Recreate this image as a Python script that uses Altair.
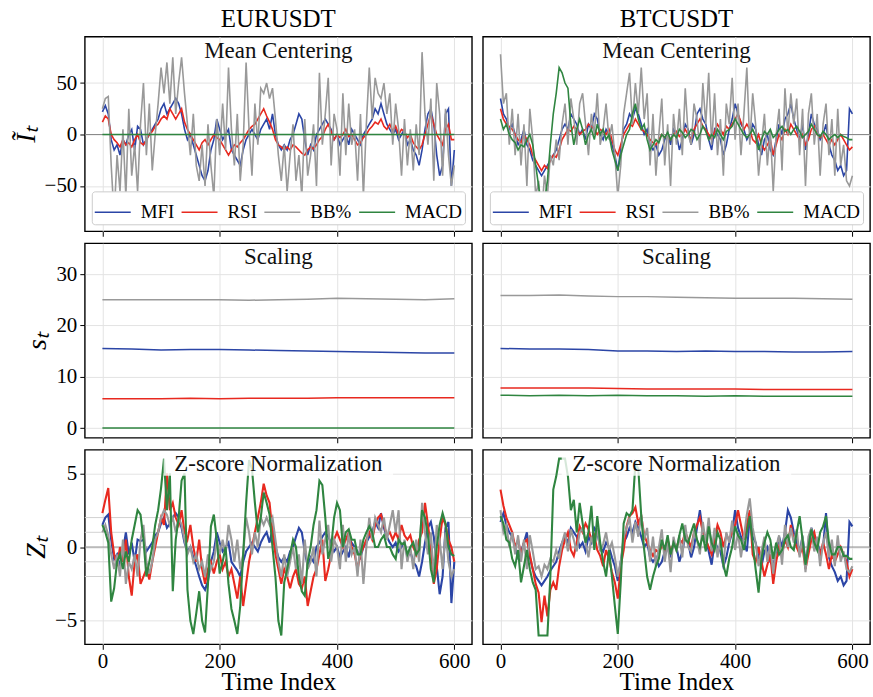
import altair as alt
import pandas as pd

FONT = "Liberation Serif"

# ---------------- categories / labels ----------------
ASSETS = ["EURUSDT", "BTCUSDT"]
STAGES = ["Mean Centering", "Scaling", "Z-score Normalization"]
Y_TITLES = ["Ĩₜ", "sₜ", "Zₜ"]
INDICATORS = ["MFI", "RSI", "BB%", "MACD"]
COLORS = ["#2b45a6", "#e8291f", "#999999", "#2f8540"]
X_TICKS = [0, 200, 400, 600]
Y_TICKS = [[-50, 0, 50], [0, 10, 20, 30], [-5, 0, 5]]
Z_REF_LEVELS = [-2, -1, 1, 2]

# ---------------- time indices ----------------
T = list(range(0, 601, 5))
T_SCALE = list(range(0, 601, 50))
T_FLAT = [0, 600]

# ---------------- EURUSDT : mean centering ----------------
eur_mc_mfi = [22, 28, 20, -5, -15, -10, -20, -5, -10, 0,
              5, -15, 8, 5, -10, -5, 0, 5, 10, 15,
              25, 30, 20, 25, 30, 35, 30, 20, 5, -5,
              0, -10, -20, -30, -40, -45, -35, -15, -5, 15,
              5, -5, 0, 5, -15, -20, -25, -30, -15, -5,
              0, 5, 0, -5, 5, 10, 15, 5, 20, 0,
              -10, -15, -10, -15, -5, 0, 10, 20, 15, -5,
              -20, -10, -15, 0, 5, 10, 15, 10, 5, -5,
              0, -10, -5, 0, -10, 5, 0, -5, -10, 0,
              5, 10, 15, 25, 20, 30, 20, 10, 5, 0,
              5, -5, 0, 5, -10, -5, -15, -20, -30, -15,
              5, 20, 25, 10, -20, -40, -30, 20, 25, -50,
              -15]
eur_mc_rsi = [12, 18, 15, 0, -5, -8, -12, -5, -10, -8,
              -12, -5, 0, -8, -10, -5, 0, 3, 8, 10,
              15, 18, 15, 25, 20, 15, 20, 25, 12, 5,
              0, -5, -10, -15, -8, -5, -10, -5, 0, -3,
              -5, -10, -15, -20, -15, -10, -12, -8, -5, 0,
              5, 8, 10, 15, 20, 25, 18, 12, 5, -5,
              -10, -12, -15, -12, -15, -10, -12, -15, -18, -20,
              -15, -12, -14, -10, -5, -2, 5, 10, 3, -5,
              0, -3, 0, 5, -2, 0, -5, -10, -8, -3,
              0, 5, 8, 12, 10, 15, 8, 5, 10, 3,
              8, 0, 5, 3, -3, 0, -8, -12, -15, -10,
              0, 10, 20, 10, 0, -5, -10, 5, 10, -5,
              -5]
eur_mc_bb = [25, 35, 37, -30, -80, -20, -55, 5, -60, 25,
             -40, -10, -55, 10, 50, -20, 30, -35, 0, 30,
             65, 40, 70, 30, 75, 20, 50, 75, 40, 10,
             -20, 20, -30, -45, -10, -50, 10, -30, -60, 15,
             -20, 30, -15, 65, 5, -30, 20, -45, -10, 70,
             5, -40, 30, -10, 45, 40, 50, 35, 45, 15,
             -20, -45, -10, -55, -20, 10, -45, -20, -60, 15,
             -40, -20, 10, -50, 60, -10, 20, 55, -30, 20,
             5, -40, 40, -20, 30, -10, 5, -45, 20, -60,
             10, 65, 15, 55, 40, 35, 50, 20, 40, -10,
             30, 5, -40, 15, -30, 5, -35, 10, -20, 80,
             20, -10, 35, -45, 50, 20, -40, 25, -20, -50,
             -30]
eur_mc_macd = [0.0, 0.0]

# ---------------- BTCUSDT : mean centering ----------------
btc_mc_mfi = [35, 20, 15, 5, 10, 0, -10, -5, 5, -10,
              -15, -25, -30, -35, -40, -35, -30, -25, -20, -15,
              -5, 5, 10, 5, 20, 15, 10, 0, 5, -5,
              10, 5, 20, 15, 0, -5, 5, 0, -10, -20,
              -35, -15, 5, 10, 20, 15, 25, 20, 10, 0,
              5, -10, -15, -10, -20, -15, -5, 0, -10, 5,
              0, -15, -5, 10, 5, -10, 0, 20, 25, 15,
              10, -5, -15, 5, 0, -5, -20, -10, 5, 15,
              30, 20, 10, 5, -5, 0, 10, 5, -10, -20,
              -5, 0, -15, -20, -5, 10, 0, 15, 20, 30,
              15, 5, -5, 10, -15, 0, 20, 10, 5, -5,
              0, 10, -10, -20, -25, -35, -30, -40, -35, 25,
              20]
btc_mc_rsi = [25, 15, 10, 8, 5, 0, -5, -8, 0, -5,
              -10, -20, -25, -30, -35, -30, -33, -25, -20, -22,
              -15, -5, 0, 5, 3, 8, 5, 0, 3, 5,
              10, 8, 5, 0, 5, 3, 0, 5, -5, -15,
              -20, -10, 0, 5, 10, 8, 15, 10, 5, 3,
              0, -5, -8, -10, -5, 0, -3, 0, -5, 0,
              3, -2, 0, 5, 0, -5, 5, 10, 15, 8,
              5, 0, -5, 3, 10, 5, 0, 8, 5, 10,
              15, 20, 12, 5, 10, 5, -5, -8, 0, -10,
              -15, -10, -5, -20, -10, 0, -5, 5, 0, 10,
              5, 0, -5, 0, -10, -5, 5, 8, 0, -3,
              0, -5, -10, -5, -10, -5, 0, -5, -10, -15,
              -12]
btc_mc_bb = [78, 30, 40, -10, 25, -20, 20, -30, 10, -50,
             25, -5, -60, -45, -80, -40, -60, -20, -30, -5,
             -25, 10, 30, -10, 35, 15, -10, 30, 40, 10,
             -20, 20, 0, 40, -10, 5, 30, -5, 10, -20,
             -60, -30, 20, 40, 60, 10, 50, 20, 65, 15,
             40, -30, 20, -40, 0, 35, -30, 10, -50, 20,
             -10, 25, -20, 45, 0, -10, 30, 15, -15, 50,
             10, 60, -10, 40, -20, 15, -40, 30, 10, 55,
             -5, 30, -20, 20, 65, -10, 40, 10, -40, -10,
             20, -30, 5, -55, 0, 25, -35, 45, 0, 40,
             10, 35, -20, 25, -50, 20, 40, -10, 20, -40,
             10, 30, -20, 15, -40, 25, -30, -10, -45, -50,
             -40]
btc_mc_macd = [15, 5, 10, 0, -5, -8, -15, -10, -12, -5,
               0, -10, -30, -50, -75, -65, -45, -10, 20, 40,
               65, 60, 50, 45, 10, -10, 5, 15, 5, -10,
               0, 5, -5, 10, 0, 5, -5, 0, -15, -25,
               -35, -20, -10, 0, 5, 20, 30, 15, 5, 10,
               -5, -15, -10, -5, -8, 0, -3, 2, -5, 0,
               -3, 5, 2, -3, 0, 5, 3, -5, 0, 8,
               3, -5, 0, -3, 5, 0, -5, 3, 5, 8,
               15, 10, 5, 0, -3, 0, 5, -2, -15, -5,
               3, 0, 5, -3, 0, 5, 8, 3, 5, 0,
               5, 8, 3, -3, 0, 3, 10, 5, 0, -2,
               3, 0, -5, -2, 0, -3, 0, -2, -3, -5,
               -5]

# ---------------- scaling (rolling std) ----------------
eur_sc_mfi = [15.5, 15.4, 15.2, 15.3, 15.3, 15.2, 15.1, 15.0, 14.9, 14.8, 14.7, 14.6, 14.6]
eur_sc_rsi = [5.7, 5.7, 5.7, 5.8, 5.7, 5.8, 5.8, 5.8, 5.9, 5.9, 5.9, 5.9, 5.9]
eur_sc_bb = [25.0, 25.0, 25.0, 25.0, 25.0, 24.9, 25.0, 25.1, 25.3, 25.2, 25.1, 25.0, 25.2]
eur_sc_macd = [0.02, 0.02, 0.02, 0.02, 0.02, 0.02, 0.02, 0.02, 0.02, 0.02, 0.02, 0.02, 0.02]
btc_sc_mfi = [15.5, 15.4, 15.4, 15.3, 15.0, 15.0, 14.9, 15.0, 14.9, 14.9, 14.8, 14.8, 14.9]
btc_sc_rsi = [7.8, 7.8, 7.8, 7.8, 7.7, 7.6, 7.6, 7.6, 7.6, 7.5, 7.5, 7.5, 7.5]
btc_sc_bb = [25.8, 25.8, 25.9, 25.7, 25.6, 25.6, 25.5, 25.4, 25.3, 25.3, 25.3, 25.2, 25.1]
btc_sc_macd = [6.4, 6.3, 6.4, 6.3, 6.4, 6.3, 6.3, 6.2, 6.3, 6.2, 6.2, 6.2, 6.2]

# ---------------- EURUSDT : z-score ----------------
eur_z_mfi = [1.5, 2.0, 2.2, 0.5, -0.8, -0.5, -1.3, -0.3, 1.0, -0.5,
             0.3, -1.0, 0.5, 0.4, 0.5, -0.3, 0.0, 0.3, 0.8, 1.0,
             1.6, 2.0, 1.3, 1.6, 2.0, 2.3, 2.0, 1.3, 0.3, -0.3,
             0.0, -0.7, -1.3, -2.0, -2.6, -2.9, -2.3, -1.0, -0.3, 1.0,
             0.3, -0.3, 0.0, 0.3, -1.0, -1.3, -1.6, -2.0, -1.0, -0.3,
             0.0, 0.3, 0.0, -0.3, 0.3, 0.7, 1.0, 0.3, 1.3, 0.0,
             -0.7, -1.0, -0.7, -1.0, -0.3, 0.0, 0.7, 1.3, 1.0, -0.3,
             -1.3, -0.7, -1.0, 0.0, 0.3, 0.7, 1.0, 0.7, 0.3, -0.3,
             0.0, -0.7, -0.3, 0.0, -0.7, 0.3, 0.0, -0.3, -0.7, 0.0,
             0.3, 0.7, 1.0, 1.7, 1.3, 2.3, 1.3, 0.7, 0.3, 0.0,
             0.3, -0.3, 0.0, 0.3, -0.7, -0.3, -1.0, -1.3, -2.0, -1.0,
             0.3, 1.3, 1.7, 0.7, -1.3, -3.2, -2.0, 1.3, 1.7, -3.8,
             -1.0]
eur_z_rsi = [2.3, 3.2, 4.0, 1.0, -0.5, -1.3, 0.0, -1.0, 0.5, -2.0,
             -3.3, -1.0, -0.5, -2.5, -2.0, -1.5, -2.2, -1.0, 0.0, 1.0,
             2.0, 1.5, 5.0, 2.5, 3.0, 2.0, 1.5, 2.5, 1.0, 0.5,
             1.5, 0.0, -1.0, 0.5, -1.5, -2.5, -1.5, -1.0, -1.8, -1.0,
             -0.5, -1.5, -1.0, -2.0, -1.5, -2.5, -3.5, -2.0, -4.0, -2.5,
             -1.0, 0.0, 1.0, 2.0, 3.0, 4.3, 3.5, 3.0, 1.0, -0.5,
             -1.5, -2.5, -1.5, -2.0, -2.8, -2.0, -1.5, -2.5, -2.8, -2.0,
             -4.0, -3.0, -2.0, -1.5, -0.5, 0.5, -2.3, -1.5, -0.5, 0.5,
             1.0, 0.5, 0.0, 0.5, 1.0, 0.0, -0.5, -1.5, -0.5, 0.0,
             0.5, 1.0, 0.5, 1.5, 2.0, 2.2, 1.5, 0.8, 1.0, 0.5,
             1.0, 0.5, 1.5, 0.8, 0.5, 0.8, 0.0, -0.5, 0.5, 1.0,
             3.0, 1.5, 0.0, -2.5, -1.5, 0.5, 2.0, 1.5, 0.5, 0.0,
             -1.0]
eur_z_bb = [1.0, 1.5, 0.8, -0.5, -1.5, -0.5, -2.0, 0.5, -2.5, -1.0,
            -1.5, -0.5, -2.0, 0.5, 1.5, -1.0, -1.8, -1.0, 0.5, 1.0,
            2.0, 2.5, 2.2, 1.5, 2.0, 1.0, 2.0, 1.5, 0.5, -0.5,
            0.0, -1.0, -0.5, -1.5, -1.0, -2.0, -0.5, -1.5, -1.0, 0.5,
            -0.5, 0.5, -0.5, 1.5, 0.5, -1.0, 0.5, -1.5, -0.5, 2.0,
            1.0, -0.5, 1.0, 0.0, 2.0, 1.5, 2.0, 1.5, 2.0, 0.5,
            -1.0, -2.0, -0.5, -2.0, -1.0, 0.0, -1.5, -0.5, -2.5, 0.5,
            -1.5, -1.0, 0.0, -2.0, 1.8, -0.5, 0.5, 1.5, -1.0, 0.5,
            0.0, -1.5, 1.5, -1.0, 1.0, -0.5, 0.0, -2.0, 0.5, -2.5,
            0.0, 2.0, 0.5, 2.0, 1.5, 1.0, 2.0, 0.5, 1.5, 2.5,
            1.0, 2.5, -1.5, 0.5, -1.0, 0.0, -1.5, 0.5, -1.0, 3.0,
            1.0, -0.5, 1.0, -2.0, 1.5, 0.5, -1.5, 1.0, -1.0, -2.0,
            -1.5]
eur_z_macd = [1.5, 1.0, 0.3, -3.7, -2.8, -1.0, -0.5, -1.5, -0.3, -1.0,
              0.5, 1.5, 2.5, 2.2, 0.5, -2.0, -1.0, 0.0, 1.5, 2.5,
              4.0, 6.0, 2.5, 5.0, -3.0, 0.5, 2.0, 4.5, 5.0, -2.9,
              -5.0, -5.9, -4.5, -3.0, -5.0, -5.8, -2.5, 1.4, 2.2, 0.5,
              -1.8, -1.0, 0.0, -2.5, -4.2, -5.0, -5.9, -4.0, -0.5, 3.0,
              5.9, 5.3, 3.0, 1.0, 2.0, 3.7, 3.0, 2.2, 0.0, -2.0,
              -5.0, -6.0, -2.4, -1.5, -0.5, 0.5, 0.0, -2.0, -3.0, -3.3,
              -1.0, 0.0, 1.5, 2.5, 4.5, 4.2, 2.0, -0.8, 0.0, 2.0,
              3.0, 2.5, 0.0, 1.0, 1.2, 0.5, 0.5, -0.5, -0.5, 0.5,
              1.0, 1.4, 1.0, 0.0, 0.0, 0.5, 0.8, 0.0, 0.0, -0.5,
              -0.8, 0.5, 0.2, 0.3, -0.5, 0.0, 0.3, -0.5, -0.2, 2.5,
              2.0, 0.8, -1.5, -2.4, 0.0, 1.5, 2.3, 1.6, 0.0, -0.5,
              -0.6]

# ---------------- BTCUSDT : z-score ----------------
btc_z_mfi = [1.7, 2.3, 1.5, 1.0, 0.7, 0.0, -0.7, -0.3, 0.3, 1.0,
             -0.7, -1.5, -2.0, -2.3, -2.6, -2.3, -2.0, -1.6, -1.3, -1.0,
             -0.3, 0.3, 0.7, 0.3, 1.3, 1.0, 0.7, 0.0, 0.3, -0.3,
             0.7, 0.3, 1.3, 1.0, 0.0, -0.3, 0.3, 0.0, -0.7, -1.3,
             -2.3, -1.0, 0.3, 0.7, 1.3, 1.0, 1.7, 1.3, 0.7, 0.0,
             0.3, -0.7, -1.0, -0.7, -1.3, -1.0, -0.3, 0.0, -0.7, 0.3,
             0.0, -1.0, -0.3, 0.7, 0.3, -0.7, 0.0, 1.3, 2.5, 1.0,
             0.7, -0.3, -1.2, 0.3, 0.0, -0.3, -1.3, -0.7, 0.3, 1.0,
             2.5, 1.3, 0.7, 0.3, -0.3, 2.0, 0.7, 0.3, -0.7, -1.3,
             -0.3, 0.0, -1.0, -1.3, -0.3, 0.7, 0.0, 1.0, 2.5, 2.0,
             1.0, 0.3, -0.3, 0.7, -1.0, 0.0, 1.3, 0.7, 0.3, -0.3,
             0.0, 2.3, -0.7, -1.3, -1.7, -2.3, -2.0, -2.6, -2.3, 1.7,
             1.4]
btc_z_rsi = [3.9, 2.8, 2.0, 1.5, 1.0, 0.0, 0.5, -0.5, 0.3, 0.5,
             -0.5, -1.5, -2.5, -3.1, -5.1, -3.3, -4.7, -2.9, -2.4, -2.9,
             -1.3, -0.2, 0.5, 1.0, -0.2, -0.6, 0.3, 1.4, 1.0, 1.6,
             1.2, 0.5, 0.8, -0.2, -0.6, -1.3, -0.2, -0.8, -1.7, -2.4,
             -3.5, -1.3, -0.2, 1.4, 2.1, 2.3, 2.7, 1.6, 2.1, 0.8,
             0.3, -0.2, -0.6, -0.2, -0.4, 0.1, -0.2, 0.5, -0.3, 0.2,
             0.0, 0.5, 0.3, 1.0, 0.5, 0.0, 1.0, 1.5, 2.0, 1.0,
             0.5, 0.0, -0.5, 0.5, 1.5, 1.0, 0.0, 0.8, 0.5, 1.0,
             1.5, 2.5, 1.5, 0.5, 1.5, 2.5, -0.5, -1.0, 0.0, -1.0,
             -2.0, -1.2, -0.5, -2.5, -1.0, 0.0, -0.5, 0.5, 0.0, 1.5,
             0.5, 0.0, -0.5, 0.0, -1.5, -0.5, 0.5, 1.0, 0.0, -0.5,
             0.3, -0.5, -1.5, -0.5, -1.0, -0.5, 0.0, -0.5, -1.0, -2.0,
             -1.5]
btc_z_bb = [2.5, 1.0, 1.5, 0.0, 1.0, -0.5, 0.8, -1.0, 0.5, -1.5,
            0.8, -0.3, -1.5, -1.3, -2.0, -1.2, -1.5, -0.8, -1.0, -0.2,
            -0.8, 0.3, 1.0, -0.3, 1.2, 0.5, -0.3, 1.0, 1.3, 0.3,
            -0.7, 0.7, 0.0, 1.3, -0.3, 0.2, 1.0, -0.2, 0.3, -0.7,
            -2.0, -1.0, 0.7, 1.3, 2.0, 0.3, 1.7, 0.7, 2.2, 0.5,
            1.3, -1.0, 0.7, -1.3, 0.0, 1.2, -1.0, 0.3, -1.7, 0.7,
            -0.3, 0.8, -0.7, 1.5, 0.0, -0.3, 1.0, 0.5, -0.5, 1.7,
            0.3, 2.0, -0.3, 1.3, -0.7, 0.5, -1.3, 1.0, 0.3, 1.8,
            -0.2, 1.0, -0.7, 0.7, 2.2, 3.3, 1.3, 0.3, -1.3, -0.3,
            0.7, -1.0, 0.2, -1.8, 0.0, 0.8, -1.2, 1.5, 0.0, 1.3,
            0.3, 1.2, -0.7, 0.8, -1.7, 0.7, 1.3, -0.3, 0.7, -1.3,
            0.3, 1.0, -0.7, 0.5, -1.3, 0.8, -1.0, -0.3, -1.5, -1.7,
            -1.3]
btc_z_macd = [2.1, 1.6, 0.5, 0.3, -0.8, -1.3, -0.2, -2.4, -1.3, -0.2,
              -1.5, -2.4, -2.9, -6.0, -6.0, -6.0, -6.0, -2.0, 3.9, 4.8,
              6.0, 6.0, 6.0, 4.8, 2.5, 3.2, 1.0, 3.0, 1.6, 0.3,
              1.0, 2.8, -0.2, 2.1, 0.3, -1.0, -2.0, -0.2, -2.0, -4.0,
              -5.9, -2.4, 1.6, 2.3, 2.1, 2.5, 5.7, 5.3, 2.1, -0.2,
              -2.0, -2.9, -2.0, -1.3, -0.8, 0.5, -0.2, 0.8, -0.5, 0.3,
              -0.2, 0.8, 1.6, 0.5, 0.3, 1.0, 1.6, 0.5, 0.0, 0.8,
              -0.3, 1.4, 0.3, -0.2, 1.0, 0.5, -1.2, -2.0, -0.8, 0.0,
              1.4, 0.8, 0.5, -0.2, 1.0, 2.1, 0.3, -1.5, -3.1, -0.8,
              0.3, 1.0, 0.5, -0.8, 0.3, -0.5, -0.2, 0.5, 0.8, 0.0,
              -0.2, 1.0, 2.1, 0.5, -1.2, 0.0, 1.2, 0.3, -0.2, 1.0,
              1.4, 2.1, 0.3, -0.5, -0.5, 0.0, 0.0, -0.6, -0.6, -0.8,
              -0.8]

# ---------------- assembling ----------------
SERIES = {
    (0, 0): [(T, eur_mc_mfi), (T, eur_mc_rsi), (T, eur_mc_bb), (T_FLAT, eur_mc_macd)],
    (0, 1): [(T, btc_mc_mfi), (T, btc_mc_rsi), (T, btc_mc_bb), (T, btc_mc_macd)],
    (1, 0): [(T_SCALE, eur_sc_mfi), (T_SCALE, eur_sc_rsi), (T_SCALE, eur_sc_bb), (T_SCALE, eur_sc_macd)],
    (1, 1): [(T_SCALE, btc_sc_mfi), (T_SCALE, btc_sc_rsi), (T_SCALE, btc_sc_bb), (T_SCALE, btc_sc_macd)],
    (2, 0): [(T, eur_z_mfi), (T, eur_z_rsi), (T, eur_z_bb), (T, eur_z_macd)],
    (2, 1): [(T, btc_z_mfi), (T, btc_z_rsi), (T, btc_z_bb), (T, btc_z_macd)],
}
Y_DOMAINS = [[-94, 95], [-1.9, 36], [-6.6, 6.6]]
LINE_WIDTHS = [1.6, 1.5, 2.1]

W, H = 388, 195
X_SCALE = alt.Scale(domain=[-30, 630], nice=False, zero=False)


def panel(stage, asset):
    left = asset == 0
    bottom = stage == 2
    x_axis_kw = dict(values=X_TICKS, grid=True, ticks=True, labels=bottom,
                     labelFontSize=21, labelPadding=1)
    if bottom:
        x_axis_kw.update(title="Time Index", titleFontSize=25, titlePadding=-2)
    else:
        x_axis_kw.update(title=None)
    x_enc = alt.X("t:Q", scale=X_SCALE, axis=alt.Axis(**x_axis_kw))

    if left:
        y_axis = alt.Axis(values=Y_TICKS[stage], grid=True, ticks=True, labels=True,
                          labelFontSize=21, labelPadding=3, title=Y_TITLES[stage],
                          titleFontSize=28, titleFontStyle="italic", titlePadding=4)
    else:
        y_axis = alt.Axis(values=Y_TICKS[stage], grid=True, ticks=False, labels=False, title=None)
    y_enc = alt.Y("v:Q", scale=alt.Scale(domain=Y_DOMAINS[stage], nice=False, zero=False), axis=y_axis)

    if stage == 0:
        legend = alt.Legend(orient="bottom-left", offset=7, direction="horizontal", columns=4,
                            title=None, symbolType="stroke", symbolSize=1300, symbolStrokeWidth=1.6,
                            labelFont=FONT, labelFontSize=19, labelOffset=9, columnPadding=3,
                            padding=2, rowPadding=0, strokeColor="#cccccc", fillColor="white",
                            cornerRadius=3, labelLimit=120, labelColor="black")
    else:
        legend = None
    color_scale = alt.Scale(domain=INDICATORS, range=COLORS)

    layers = []
    if stage == 2:
        ref = pd.DataFrame({"v": Z_REF_LEVELS})
        layers.append(alt.Chart(ref).mark_rule(color="#d2d2d2", strokeWidth=1).encode(y=y_enc))
    if stage in (0, 2):
        zero = pd.DataFrame({"v": [0]})
        layers.append(alt.Chart(zero).mark_rule(color="#8a8a8a", strokeWidth=1).encode(y=y_enc))

    for name, (tt, vals) in zip(INDICATORS, SERIES[(stage, asset)]):
        assert len(tt) == len(vals), (stage, asset, name, len(vals))
        df = pd.DataFrame({"t": tt, "v": vals, "ind": name})
        layers.append(
            alt.Chart(df).mark_line(strokeWidth=LINE_WIDTHS[stage], clip=True).encode(
                x=x_enc, y=y_enc,
                color=alt.Color("ind:N", scale=color_scale, legend=legend),
            )
        )

    if stage == 2:
        box = pd.DataFrame({"label": [STAGES[stage]]})
        layers.append(
            alt.Chart(box).mark_rect(color="white", opacity=0.8).encode(
                x=alt.value(W / 2 - 115), x2=alt.value(W / 2 + 115),
                y=alt.value(2), y2=alt.value(26))
        )
    sub = pd.DataFrame({"label": [STAGES[stage]]})
    layers.append(
        alt.Chart(sub).mark_text(font=FONT, fontSize=23, color="#111111", baseline="middle",
                                 align="center").encode(
            text="label:N", x=alt.value(W / 2), y=alt.value(14))
    )

    ch = alt.layer(*layers).properties(width=W, height=H)
    if stage == 0:
        ch = ch.properties(title=alt.TitleParams(ASSETS[asset], font=FONT, fontSize=25,
                                                 fontWeight="normal", color="black", offset=5))
    return ch


panels = [panel(s, a) for s in range(3) for a in range(2)]

chart = alt.concat(*panels, columns=2, spacing={"row": 12, "column": 11}, bounds="flush").resolve_scale(
    color="independent").resolve_legend(color="independent")

chart = chart.properties(
    padding={"left": 11, "top": 5, "right": 1, "bottom": 0},
    background="white",
).configure_view(
    stroke="black", strokeWidth=1.4
).configure_axis(
    domain=False, gridColor="#e3e3e3", gridWidth=1, tickColor="black", tickSize=5,
    tickWidth=1, labelFont=FONT, titleFont=FONT, labelColor="black", titleColor="black",
    titleFontWeight="normal"
)

chart.save("out.html", embed_options={"renderer": "svg", "actions": False})
